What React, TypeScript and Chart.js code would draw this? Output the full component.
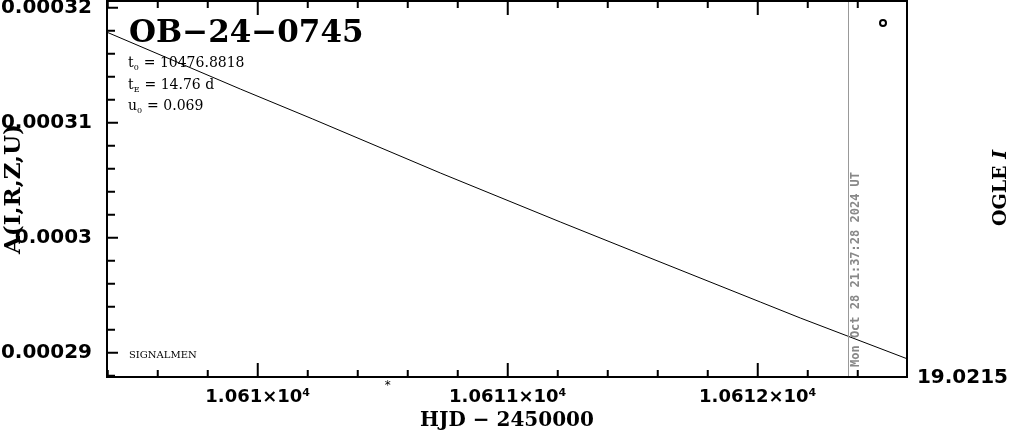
import React, { useEffect, useRef } from "react";
import { Chart, registerables } from "chart.js";

Chart.register(...registerables);

// ---- data ----
const hjd = [10609.4, 10609.93, 10610.22, 10610.73, 10611.21, 10611.53, 10612.01, 10612.17, 10612.6];
const amplification = [0.00031784, 0.00031293, 0.00031032, 0.00030563, 0.00030137, 0.00029858, 0.00029441, 0.00029302, 0.00028945];

const xTickValues = [10610, 10611, 10612];
const xTickLabels = ["1.061×10⁴", "1.0611×10⁴", "1.0612×10⁴"];
const yTickValues = [0.00029, 0.0003, 0.00031, 0.00032];
const yTickLabels = ["0.00029", "0.0003", "0.00031", "0.00032"];

const eventName = "OB−24−0745";
const paramNames = ["t", "t", "u"];
const paramSubs = ["0", "E", "0"];
const paramValues = ["= 10476.8818", "= 14.76 d", "= 0.069"];
const nowMarkerHJD = 10612.36;
const nowLabel = "Mon Oct 28 21:37:28 2024 UT";
const starHJD = 10610.52;
const baselineMag = "19.0215";
const bandLabel = "OGLE ";
const bandLetter = "I";
const creditLabel = "SIGNALMEN";

const xMin = 10609.397;
const xMax = 10612.597;
const yMin = 0.000287887;
const yMax = 0.000320583;
const xMinorStep = 0.2;
const yMinorStep = 0.000002;

const overlayPlugin = {
  id: "overlay",
  afterDraw(chart: any) {
    const { ctx, chartArea } = chart;
    const { left, right, top, bottom } = chartArea;
    const xs = chart.scales.x;
    const ys = chart.scales.y;
    ctx.save();

    // gray "now" line
    const nx = Math.round(xs.getPixelForValue(nowMarkerHJD)) + 0.5;
    ctx.strokeStyle = "#999";
    ctx.lineWidth = 1;
    ctx.beginPath();
    ctx.moveTo(nx, top);
    ctx.lineTo(nx, bottom);
    ctx.stroke();

    // frame and inward ticks
    ctx.strokeStyle = "#000";
    ctx.lineWidth = 2;
    ctx.beginPath();
    const kx0 = Math.ceil(xMin / xMinorStep - 1e-9);
    for (let k = kx0; k * xMinorStep <= xMax + 1e-9; k++) {
      const v = k * xMinorStep;
      const major = k % 5 === 0;
      const px = xs.getPixelForValue(v);
      const len = major ? 14 : 7;
      ctx.moveTo(px, bottom);
      ctx.lineTo(px, bottom - len);
      ctx.moveTo(px, top);
      ctx.lineTo(px, top + len);
    }
    const ky0 = Math.ceil(yMin / yMinorStep - 1e-9);
    for (let k = ky0; k * yMinorStep <= yMax + 1e-12; k++) {
      const v = k * yMinorStep;
      const major = k % 5 === 0;
      const py = ys.getPixelForValue(v);
      const len = major ? 11 : 8;
      ctx.moveTo(left, py);
      ctx.lineTo(left + len, py);
    }
    ctx.stroke();
    ctx.strokeRect(left, top, right - left, bottom - top);

    // title
    ctx.fillStyle = "#000";
    ctx.textAlign = "left";
    ctx.textBaseline = "alphabetic";
    ctx.font = "bold 31px 'DejaVu Serif'";
    ctx.fillText(eventName, 129, 42);

    // parameters
    const rowBase = [67, 89, 110];
    for (let i = 0; i < paramNames.length; i++) {
      let cx = 128;
      ctx.font = "14px 'DejaVu Serif'";
      ctx.fillText(paramNames[i], cx, rowBase[i]);
      cx += ctx.measureText(paramNames[i]).width;
      ctx.font = "8px 'DejaVu Serif'";
      ctx.fillText(paramSubs[i], cx, rowBase[i] + 3);
      cx += ctx.measureText(paramSubs[i]).width + 5;
      ctx.font = "14px 'DejaVu Serif'";
      ctx.fillText(paramValues[i], cx, rowBase[i]);
    }

    // credit
    ctx.font = "10px 'DejaVu Serif'";
    ctx.fillText(creditLabel, 129, 358);

    // legend circle
    ctx.lineWidth = 2;
    ctx.beginPath();
    ctx.arc(883, 23, 3, 0, Math.PI * 2);
    ctx.stroke();

    // star marker
    ctx.font = "12px 'DejaVu Sans'";
    ctx.textAlign = "center";
    ctx.textBaseline = "middle";
    ctx.fillText("*", xs.getPixelForValue(starHJD), 386);

    // baseline magnitude
    ctx.font = "bold 20px 'DejaVu Sans'";
    ctx.textAlign = "right";
    ctx.fillText(baselineMag, 1008, 378);

    // date text along the now line
    ctx.save();
    ctx.translate(nx + 7, 367);
    ctx.rotate(-Math.PI / 2);
    ctx.font = "bold 12px 'DejaVu Sans Mono'";
    ctx.fillStyle = "#888";
    ctx.textAlign = "left";
    ctx.textBaseline = "middle";
    ctx.fillText(nowLabel, 0, 0);
    ctx.restore();

    // band label
    ctx.save();
    ctx.translate(1001, 188);
    ctx.rotate(-Math.PI / 2);
    ctx.textBaseline = "middle";
    ctx.textAlign = "left";
    ctx.font = "bold 19px 'DejaVu Serif'";
    const w1 = ctx.measureText(bandLabel).width;
    ctx.font = "italic bold 19px 'DejaVu Serif'";
    const w2 = ctx.measureText(bandLetter).width;
    const start = -(w1 + w2) / 2;
    ctx.font = "bold 19px 'DejaVu Serif'";
    ctx.fillText(bandLabel, start, 0);
    ctx.font = "italic bold 19px 'DejaVu Serif'";
    ctx.fillText(bandLetter, start + w1, 0);
    ctx.restore();

    ctx.restore();
  },
};

export default function App() {
  const ref = useRef<HTMLCanvasElement | null>(null);
  useEffect(() => {
    if (!ref.current) return;
    const chart = new Chart(ref.current, {
      type: "line",
      data: {
        datasets: [
          {
            data: hjd.map((x, i) => ({ x, y: amplification[i] })),
            borderColor: "#000",
            borderWidth: 1,
            pointRadius: 0,
            tension: 0,
            fill: false,
          },
        ],
      },
      options: {
        animation: false,
        responsive: false,
        maintainAspectRatio: false,
        devicePixelRatio: 1,
        layout: { padding: { left: 0, right: 104, top: 1, bottom: 0 } },
        plugins: { legend: { display: false }, tooltip: { enabled: false } },
        scales: {
          x: {
            type: "linear",
            min: xMin,
            max: xMax,
            grid: { display: false, drawTicks: false },
            border: { display: false },
            afterFit: (s: any) => {
              s.height = 57;
              s.paddingLeft = 0;
              s.paddingRight = 0;
            },
            afterBuildTicks: (s: any) => {
              s.ticks = xTickValues.map((v) => ({ value: v }));
            },
            ticks: {
              autoSkip: false,
              maxRotation: 0,
              padding: 10,
              color: "#000",
              font: { family: "DejaVu Sans", size: 18, weight: "bold" },
              callback: (_v: any, i: number) => xTickLabels[i],
            },
            title: {
              display: true,
              text: "HJD − 2450000",
              color: "#000",
              font: { family: "DejaVu Serif", size: 20, weight: "bold" },
              padding: { top: 0, bottom: 1 },
            },
          },
          y: {
            type: "linear",
            min: yMin,
            max: yMax,
            grid: { display: false, drawTicks: false },
            border: { display: false },
            afterFit: (s: any) => {
              s.width = 107;
              s.paddingTop = 0;
              s.paddingBottom = 0;
            },
            afterBuildTicks: (s: any) => {
              s.ticks = yTickValues.map((v) => ({ value: v }));
            },
            ticks: {
              autoSkip: false,
              padding: 15,
              color: "#000",
              font: { family: "DejaVu Sans", size: 20, weight: "bold" },
              callback: (_v: any, i: number) => yTickLabels[i],
            },
            title: {
              display: true,
              text: "A(I,R,Z,U)",
              color: "#000",
              font: { family: "DejaVu Serif", size: 23, weight: "bold" },
              padding: 0,
            },
          },
        },
      },
      plugins: [overlayPlugin],
    });
    return () => chart.destroy();
  }, []);
  return (
    <div style={{ position: "absolute", left: 0, top: 0, width: 1011, height: 434, background: "#fff" }}>
      <canvas ref={ref} width={1011} height={434} style={{ display: "block" }} />
    </div>
  );
}
